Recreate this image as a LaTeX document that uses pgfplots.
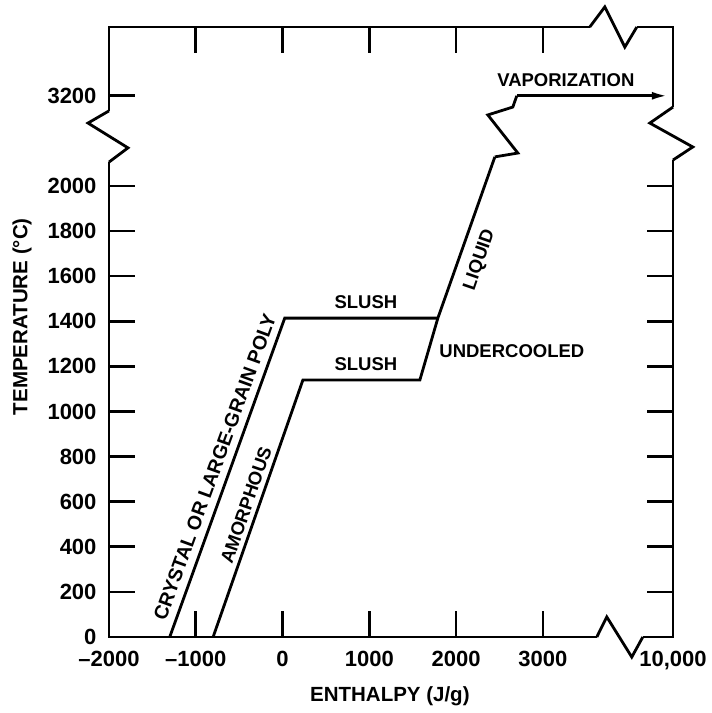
\documentclass[border=0pt]{standalone}
\usepackage{fontspec}
\setmainfont{Liberation Sans}
\usepackage{pgfplots}
\pgfplotsset{compat=1.18}
\usetikzlibrary{arrows.meta}
\newcommand\labf{\bfseries\fontsize{18.5}{22}\selectfont}
\newcommand\crysf{\bfseries\fontsize{19.5}{23}\selectfont}
\newcommand\tickf{\bfseries\fontsize{22}{26}\selectfont}
\newcommand\axf{\bfseries\fontsize{20.5}{24}\selectfont}
\begin{document}
\begin{tikzpicture}
\useasboundingbox (-109pt,-76pt) rectangle (603pt,637pt);
\begin{axis}[
  scale only axis, width=564pt, height=610pt,
  xmin=-2000, xmax=4500, ymin=0, ymax=2705,
  xtick={-2000,-1000,0,1000,2000,3000,4500},
  xticklabels={--2000,--1000,0,1000,2000,3000,{10,000}},
  ytick={0,200,400,600,800,1000,1200,1400,1600,1800,2000},
  yticklabels={0,200,400,600,800,1000,1200,1400,1600,1800,2000},
  extra y ticks={2400}, extra y tick labels={3200},
  extra y tick style={ytick pos=left},
  tick align=inside, major tick length=26pt,
  every tick/.style={black, line width=2.6pt},
  axis line style={line width=2.8pt},
  tick label style={font=\tickf},
  yticklabel style={xshift=-9pt},
  xticklabel style={yshift=-11pt},
  xlabel={ENTHALPY (J/g)}, ylabel={TEMPERATURE (°C)},
  every axis x label/.style={at={(axis description cs:0.498,-0.0967)},anchor=center,font=\axf},
  every axis y label/.style={at={(axis description cs:-0.154,0.525)},anchor=center,rotate=90,font=\axf},
  clip=false,
  curve/.style={black, line width=2.8pt, line join=miter},
]
% crystal / large-grain poly
\addplot[curve] coordinates {(-1300,0) (25,1414) (1790,1414)};
% amorphous -> undercooled -> liquid
\addplot[curve] coordinates {(-800,0) (235,1140) (1583,1140) (1790,1414) (2447,2129)};
% vaporization
\addplot[curve, -{Latex[length=16pt,width=8pt]}] coordinates {(2700,2400) (4440,2400)};
% break symbol in the liquid line
\draw[black, line width=2.8pt, line join=miter] (axis cs:2447,2129) -- (axis cs:2712,2146) -- (axis cs:2366,2315) -- (axis cs:2654,2350) -- (axis cs:2700,2400);
% axis breaks
\fill[white] (axis cs:-2045,2106) rectangle (axis cs:-1955,2333);
\fill[white] (axis cs:4455,2115) rectangle (axis cs:4545,2350);
\fill[white] (axis cs:3541,2685) rectangle (axis cs:4083,2725);
\fill[white] (axis cs:3622,-20) rectangle (axis cs:4152,20);
\draw[black, line width=2.8pt, line join=miter] (axis cs:-2000,2106) -- (axis cs:-1781,2169) -- (axis cs:-2242,2279) -- (axis cs:-2000,2333);
\draw[black, line width=2.8pt, line join=miter] (axis cs:4500,2115) -- (axis cs:4728,2173) -- (axis cs:4233,2279) -- (axis cs:4500,2350);
\draw[black, line width=2.8pt, line join=miter] (axis cs:3541,2705) -- (axis cs:3714,2794) -- (axis cs:3945,2616) -- (axis cs:4083,2705);
\draw[black, line width=2.8pt, line join=miter] (axis cs:3622,0) -- (axis cs:3737,89) -- (axis cs:4025,-89) -- (axis cs:4152,0);
% labels
\node[font=\labf] at (axis cs:961,1486) {SLUSH};
\node[font=\labf] at (axis cs:961,1211) {SLUSH};
\node[font=\labf] at (axis cs:2643,1268) {UNDERCOOLED};
\node[font=\labf, rotate=71] at (axis cs:2274,1672) {LIQUID};
\node[font=\labf] at (axis cs:3265,2470) {VAPORIZATION};
\node[font=\crysf, rotate=70] at (axis cs:-780,754) {CRYSTAL OR LARGE-GRAIN POLY};
\node[font=\labf, rotate=71] at (axis cs:-420,585) {AMORPHOUS};
\end{axis}
\end{tikzpicture}
\end{document}
